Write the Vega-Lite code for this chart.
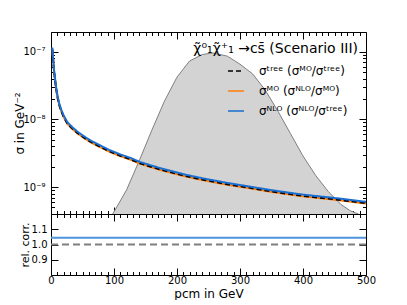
{
  "$schema": "https://vega.github.io/schema/vega-lite/v6.json",
  "padding": {"left": 13, "top": 31, "right": 0, "bottom": 0},
  "spacing": 0,
  "bounds": "flush",
  "config": {
    "font": "DejaVu Sans",
    "view": {"stroke": "black", "strokeWidth": 1},
    "axis": {"domain": false, "grid": false, "tickColor": "black", "labelColor": "black", "titleColor": "black", "labelFont": "DejaVu Sans", "titleFont": "DejaVu Sans", "labelFontSize": 10, "titleFontSize": 12, "titleFontWeight": "normal"}
  },
  "datasets": {
    "sigma": [
      {"p": 2, "tree": 1.10e-7, "mo": 1.084e-7, "nlo": 1.150e-7},
      {"p": 3, "tree": 8.6e-8, "mo": 8.47e-8, "nlo": 8.99e-8},
      {"p": 4, "tree": 6.4e-8, "mo": 6.30e-8, "nlo": 6.69e-8},
      {"p": 5, "tree": 5.0e-8, "mo": 4.93e-8, "nlo": 5.23e-8},
      {"p": 6.5, "tree": 3.8e-8, "mo": 3.74e-8, "nlo": 3.97e-8},
      {"p": 8, "tree": 2.9e-8, "mo": 2.86e-8, "nlo": 3.03e-8},
      {"p": 10.5, "tree": 2.1e-8, "mo": 2.07e-8, "nlo": 2.19e-8},
      {"p": 13, "tree": 1.65e-8, "mo": 1.63e-8, "nlo": 1.72e-8},
      {"p": 16, "tree": 1.35e-8, "mo": 1.33e-8, "nlo": 1.41e-8},
      {"p": 20, "tree": 1.1e-8, "mo": 1.08e-8, "nlo": 1.15e-8},
      {"p": 26, "tree": 8.7e-9, "mo": 8.57e-9, "nlo": 9.09e-9},
      {"p": 34, "tree": 7.3e-9, "mo": 7.19e-9, "nlo": 7.63e-9},
      {"p": 42, "tree": 6.3e-9, "mo": 6.21e-9, "nlo": 6.58e-9},
      {"p": 52, "tree": 5.4e-9, "mo": 5.32e-9, "nlo": 5.64e-9},
      {"p": 64, "tree": 4.6e-9, "mo": 4.53e-9, "nlo": 4.81e-9},
      {"p": 78, "tree": 3.95e-9, "mo": 3.89e-9, "nlo": 4.13e-9},
      {"p": 92, "tree": 3.4e-9, "mo": 3.35e-9, "nlo": 3.55e-9},
      {"p": 110, "tree": 2.9e-9, "mo": 2.86e-9, "nlo": 3.03e-9},
      {"p": 125, "tree": 2.6e-9, "mo": 2.56e-9, "nlo": 2.72e-9},
      {"p": 141, "tree": 2.25e-9, "mo": 2.22e-9, "nlo": 2.35e-9},
      {"p": 160, "tree": 1.98e-9, "mo": 1.95e-9, "nlo": 2.07e-9},
      {"p": 180, "tree": 1.75e-9, "mo": 1.72e-9, "nlo": 1.83e-9},
      {"p": 210, "tree": 1.48e-9, "mo": 1.46e-9, "nlo": 1.55e-9},
      {"p": 240, "tree": 1.29e-9, "mo": 1.27e-9, "nlo": 1.35e-9},
      {"p": 280, "tree": 1.1e-9, "mo": 1.08e-9, "nlo": 1.15e-9},
      {"p": 320, "tree": 9.6e-10, "mo": 9.46e-10, "nlo": 1.0e-9},
      {"p": 350, "tree": 8.6e-10, "mo": 8.47e-10, "nlo": 8.99e-10},
      {"p": 400, "tree": 7.4e-10, "mo": 7.29e-10, "nlo": 7.73e-10},
      {"p": 450, "tree": 6.6e-10, "mo": 6.5e-10, "nlo": 6.9e-10},
      {"p": 500, "tree": 5.8e-10, "mo": 5.71e-10, "nlo": 6.06e-10}
    ],
    "dist": [
      {"p": 98, "d": 0},
      {"p": 120, "d": 0.15},
      {"p": 140, "d": 0.33},
      {"p": 160, "d": 0.52},
      {"p": 180, "d": 0.70},
      {"p": 200, "d": 0.85},
      {"p": 220, "d": 0.95},
      {"p": 240, "d": 0.99},
      {"p": 257, "d": 1.0},
      {"p": 280, "d": 0.98},
      {"p": 300, "d": 0.93},
      {"p": 320, "d": 0.87},
      {"p": 340, "d": 0.77},
      {"p": 360, "d": 0.64},
      {"p": 380, "d": 0.50},
      {"p": 400, "d": 0.36},
      {"p": 420, "d": 0.24},
      {"p": 440, "d": 0.14},
      {"p": 460, "d": 0.06},
      {"p": 475, "d": 0.02},
      {"p": 488, "d": 0}
    ],
    "ratio": [
      {"p": 0, "mo_tree": 1.0, "nlo_tree": 1.045},
      {"p": 500, "mo_tree": 1.0, "nlo_tree": 1.045}
    ]
  },
  "vconcat": [
    {
      "width": 315,
      "height": 182,
      "title": {"text": "χ̃⁰₁χ̃⁺₁ →cs̄ (Scenario III)", "anchor": "end", "offset": -24, "dx": -12, "fontSize": 14, "fontWeight": "normal", "font": "DejaVu Sans", "color": "black"},
      "layer": [
        {
          "data": {"name": "dist"},
          "mark": {"type": "area", "color": "#d3d3d3", "opacity": 1, "line": {"color": "#808080", "strokeWidth": 1}},
          "encoding": {
            "x": {"field": "p", "type": "quantitative", "scale": {"domain": [0, 500]},
              "axis": {"orient": "bottom", "values": [0,10,20,30,40,50,60,70,80,90,100,110,120,130,140,150,160,170,180,190,200,210,220,230,240,250,260,270,280,290,300,310,320,330,340,350,360,370,380,390,400,410,420,430,440,450,460,470,480,490,500], "labels": false, "title": null,
                "tickSize": {"condition": {"test": "datum.value % 100 === 0", "value": -7}, "value": -3.5}}},
            "y": {"field": "d", "type": "quantitative", "scale": {"domain": [0, 1.13]}, "axis": null}
          }
        },
        {
          "data": {"name": "sigma"},
          "mark": {"type": "line", "strokeWidth": 2},
          "encoding": {
            "x": {"field": "p", "type": "quantitative", "scale": {"domain": [0, 500]}, "axis": null},
            "y": {"field": "mo", "type": "quantitative", "scale": {"type": "log", "domain": [4e-10, 1.95e-7]},
              "axis": {"orient": "left", "title": "σ in GeV⁻²", "titlePadding": -4,
                "values": [4e-10,5e-10,6e-10,7e-10,8e-10,9e-10,1e-9,2e-9,3e-9,4e-9,5e-9,6e-9,7e-9,8e-9,9e-9,1e-8,2e-8,3e-8,4e-8,5e-8,6e-8,7e-8,8e-8,9e-8,1e-7],
                "labelExpr": "abs(log(datum.value)/LN10 - round(log(datum.value)/LN10)) < 0.01 ? (round(log(datum.value)/LN10) == -7 ? '10⁻⁷' : round(log(datum.value)/LN10) == -8 ? '10⁻⁸' : '10⁻⁹') : ''",
                "labelPadding": {"condition": {"test": "abs(log(datum.value)/LN10 - round(log(datum.value)/LN10)) < 0.01", "value": 13}, "value": 9.5},
                "tickSize": {"condition": {"test": "abs(log(datum.value)/LN10 - round(log(datum.value)/LN10)) < 0.01", "value": -7}, "value": -3.5}}},
            "color": {"datum": "σᴹᴼ  (σᴺᴸᴼ/σᴹᴼ)", "type": "nominal",
              "scale": {"domain": ["σᵗʳᵉᵉ  (σᴹᴼ/σᵗʳᵉᵉ)", "σᴹᴼ  (σᴺᴸᴼ/σᴹᴼ)", "σᴺᴸᴼ  (σᴺᴸᴼ/σᵗʳᵉᵉ)"], "range": ["black", "#ff7f0e", "#1a6fd0"]},
              "legend": {"orient": "none", "legendX": 176, "legendY": 30, "title": null, "symbolType": "stroke", "symbolSize": 256, "symbolStrokeWidth": 1.5, "labelFontSize": 12, "labelFont": "DejaVu Sans", "labelColor": "black", "rowPadding": 5, "labelOffset": 14}},
            "strokeDash": {"datum": "σᴹᴼ  (σᴺᴸᴼ/σᴹᴼ)", "type": "nominal",
              "scale": {"domain": ["σᵗʳᵉᵉ  (σᴹᴼ/σᵗʳᵉᵉ)", "σᴹᴼ  (σᴺᴸᴼ/σᴹᴼ)", "σᴺᴸᴼ  (σᴺᴸᴼ/σᵗʳᵉᵉ)"], "range": [[5, 3], [1, 0], [1, 0]]},
              "legend": {"orient": "none", "legendX": 176, "legendY": 30, "title": null, "symbolType": "stroke", "symbolSize": 256, "symbolStrokeWidth": 1.5, "labelFontSize": 12, "labelFont": "DejaVu Sans", "labelColor": "black", "rowPadding": 5, "labelOffset": 14}}
          }
        },
        {
          "data": {"name": "sigma"},
          "mark": {"type": "line", "strokeWidth": 2},
          "encoding": {
            "x": {"field": "p", "type": "quantitative", "scale": {"domain": [0, 500]}, "axis": null},
            "y": {"field": "tree", "type": "quantitative", "scale": {"type": "log", "domain": [4e-10, 1.95e-7]}, "axis": null},
            "color": {"datum": "σᵗʳᵉᵉ  (σᴹᴼ/σᵗʳᵉᵉ)", "type": "nominal"},
            "strokeDash": {"datum": "σᵗʳᵉᵉ  (σᴹᴼ/σᵗʳᵉᵉ)", "type": "nominal"}
          }
        },
        {
          "data": {"name": "sigma"},
          "mark": {"type": "line", "strokeWidth": 2},
          "encoding": {
            "x": {"field": "p", "type": "quantitative", "scale": {"domain": [0, 500]},
              "axis": {"orient": "top", "values": [0,10,20,30,40,50,60,70,80,90,100,110,120,130,140,150,160,170,180,190,200,210,220,230,240,250,260,270,280,290,300,310,320,330,340,350,360,370,380,390,400,410,420,430,440,450,460,470,480,490,500], "labels": false, "title": null,
                "tickSize": {"condition": {"test": "datum.value % 100 === 0", "value": -7}, "value": -3.5}}},
            "y": {"field": "nlo", "type": "quantitative", "scale": {"type": "log", "domain": [4e-10, 1.95e-7]},
              "axis": {"orient": "right", "labels": false, "title": null,
                "values": [4e-10,5e-10,6e-10,7e-10,8e-10,9e-10,1e-9,2e-9,3e-9,4e-9,5e-9,6e-9,7e-9,8e-9,9e-9,1e-8,2e-8,3e-8,4e-8,5e-8,6e-8,7e-8,8e-8,9e-8,1e-7],
                "tickSize": {"condition": {"test": "abs(log(datum.value)/LN10 - round(log(datum.value)/LN10)) < 0.01", "value": -7}, "value": -3.5}}},
            "color": {"datum": "σᴺᴸᴼ  (σᴺᴸᴼ/σᵗʳᵉᵉ)", "type": "nominal"},
            "strokeDash": {"datum": "σᴺᴸᴼ  (σᴺᴸᴼ/σᵗʳᵉᵉ)", "type": "nominal"}
          }
        }
      ],
      "resolve": {"scale": {"y": "independent"}, "axis": {"x": "independent", "y": "independent"}}
    },
    {
      "width": 315,
      "height": 61,
      "data": {"name": "ratio"},
      "layer": [
        {
          "mark": {"type": "line", "color": "#7f7f7f", "strokeDash": [7, 4], "strokeWidth": 2},
          "encoding": {
            "x": {"field": "p", "type": "quantitative", "scale": {"domain": [0, 500]},
              "axis": {"orient": "bottom", "title": "pcm in GeV", "titlePadding": 3, "labelFlush": false,
                "values": [0,10,20,30,40,50,60,70,80,90,100,110,120,130,140,150,160,170,180,190,200,210,220,230,240,250,260,270,280,290,300,310,320,330,340,350,360,370,380,390,400,410,420,430,440,450,460,470,480,490,500],
                "labelExpr": "datum.value % 100 === 0 ? datum.label : ''",
                "labelPadding": {"condition": {"test": "datum.value % 100 === 0", "value": 7}, "value": 3.5},
                "tickSize": {"condition": {"test": "datum.value % 100 === 0", "value": -7}, "value": -3.5}}},
            "y": {"field": "mo_tree", "type": "quantitative", "scale": {"domain": [0.8, 1.2]},
              "axis": {"orient": "left", "title": "rel. corr.", "titleFontSize": 11, "titlePadding": 1, "labelPadding": 11, "values": [0.9, 1.0, 1.1], "format": ".1f", "tickSize": -7}}
          }
        },
        {
          "mark": {"type": "line", "color": "#4d94dd", "strokeWidth": 2},
          "encoding": {
            "x": {"field": "p", "type": "quantitative", "scale": {"domain": [0, 500]},
              "axis": {"orient": "top", "labels": false, "title": null,
                "values": [0,10,20,30,40,50,60,70,80,90,100,110,120,130,140,150,160,170,180,190,200,210,220,230,240,250,260,270,280,290,300,310,320,330,340,350,360,370,380,390,400,410,420,430,440,450,460,470,480,490,500],
                "tickSize": {"condition": {"test": "datum.value % 100 === 0", "value": -7}, "value": -3.5}}},
            "y": {"field": "nlo_tree", "type": "quantitative", "scale": {"domain": [0.8, 1.2]},
              "axis": {"orient": "right", "labels": false, "title": null, "values": [0.9, 1.0, 1.1], "tickSize": -7}}
          }
        }
      ],
      "resolve": {"axis": {"x": "independent", "y": "independent"}}
    }
  ]
}
